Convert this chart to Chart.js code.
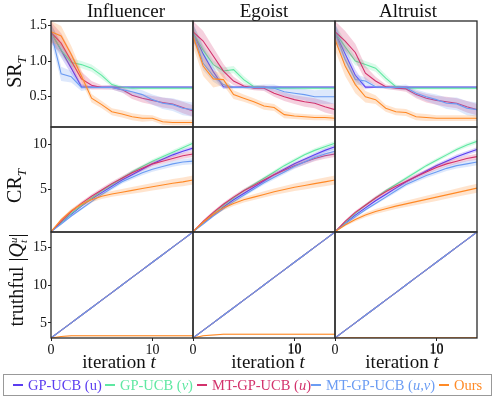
<!DOCTYPE html>
<html>
<head>
<meta charset="utf-8">
<script src="https://cdn.jsdelivr.net/npm/chart.js@4.4.1/dist/chart.umd.min.js"></script>
<style>
  body { margin:0; background:#fff; }
  #fig { position:relative; width:498px; height:397px; font-family:'Liberation Serif', serif; color:#111; }
  #fig canvas { position:absolute; left:0; top:0; }
  .lbl { position:absolute; white-space:nowrap; transform:translate(-50%,-50%); font-size:19px; }
  .tk { position:absolute; white-space:nowrap; transform:translate(-50%,-50%); font-size:14px; line-height:14px; }
  .ylbl { position:absolute; white-space:nowrap; transform:translate(-50%,-50%) rotate(-90deg); font-size:20px; }
  #legend { position:absolute; left:3px; top:374px; width:487px; height:20px; border:1px solid #999; font-size:14.5px; }
  #legend span.it { position:absolute; top:0; height:20px; display:flex; align-items:center; white-space:nowrap; }
  #legend span.mk { display:inline-block; width:10px; height:2px; margin-right:5px; }
</style>
</head>
<body>
<div id="fig"></div>
<script>
// x values (iteration t)
const T = [0,1,2,3,4,5,6,7,8,9,10,11,12,13,14];

const names = ['GP-UCB (u)', 'GP-UCB (v)', 'MT-GP-UCB (u)', 'MT-GP-UCB (u,v)', 'Ours'];
const colors = ['#5a3cf0', '#5fe8a2', '#d3326c', '#6b9cf3', '#ff8a26'];

// SR_T
const srInfGPu  = [1.40,1.15,0.90,0.64,0.635,0.635,0.635,0.635,0.635,0.635,0.635,0.635,0.635,0.635,0.635];
const srInfGPv  = [1.40,1.15,0.98,0.95,0.90,0.80,0.67,0.63,0.62,0.62,0.62,0.62,0.62,0.62,0.62];
const srInfMTu  = [1.40,1.25,1.00,0.75,0.66,0.63,0.63,0.60,0.52,0.48,0.45,0.42,0.40,0.35,0.30];
const srInfMTuv = [1.40,0.82,0.78,0.63,0.63,0.63,0.63,0.60,0.57,0.53,0.46,0.41,0.39,0.34,0.32];
const srInfOurs = [1.41,1.35,1.09,0.79,0.48,0.39,0.29,0.26,0.22,0.20,0.20,0.15,0.14,0.14,0.14];

const srEgoGPu  = [1.40,1.10,0.85,0.64,0.635,0.635,0.635,0.635,0.635,0.635,0.635,0.635,0.635,0.635,0.635];
const srEgoGPv  = [1.40,1.15,0.95,0.86,0.88,0.74,0.64,0.63,0.62,0.62,0.62,0.62,0.62,0.62,0.62];
const srEgoMTu  = [1.41,1.28,1.07,0.86,0.72,0.65,0.62,0.62,0.55,0.50,0.46,0.43,0.41,0.36,0.32];
const srEgoMTuv = [1.40,0.97,0.79,0.67,0.63,0.63,0.63,0.63,0.62,0.57,0.55,0.53,0.50,0.50,0.50];
const srEgoOurs = [1.35,0.93,0.75,0.74,0.53,0.48,0.43,0.37,0.35,0.25,0.23,0.22,0.21,0.21,0.20];

const srAltGPu  = [1.40,1.10,0.80,0.635,0.635,0.635,0.635,0.635,0.635,0.635,0.635,0.635,0.635,0.635,0.635];
const srAltGPv  = [1.40,1.20,1.00,0.95,0.90,0.76,0.64,0.62,0.62,0.62,0.62,0.62,0.62,0.62,0.62];
const srAltMTu  = [1.41,1.28,1.12,0.83,0.72,0.64,0.62,0.61,0.53,0.48,0.45,0.43,0.41,0.36,0.32];
const srAltMTuv = [1.40,1.02,0.74,0.72,0.64,0.63,0.63,0.63,0.55,0.50,0.46,0.41,0.40,0.34,0.32];
const srAltOurs = [1.30,0.93,0.67,0.50,0.46,0.34,0.29,0.28,0.22,0.21,0.20,0.20,0.20,0.20,0.20];

const srSdGPu  = [0.12,0.10,0.08,0.03,0.01,0.01,0.01,0.01,0.01,0.01,0.01,0.01,0.01,0.01,0.01];
const srSdGPv  = [0.12,0.08,0.06,0.05,0.05,0.05,0.03,0.02,0.02,0.02,0.02,0.02,0.02,0.02,0.02];
const srSdMTu  = [0.15,0.14,0.12,0.10,0.06,0.03,0.03,0.04,0.05,0.06,0.06,0.07,0.07,0.08,0.08];
const srSdMTuv = [0.12,0.10,0.08,0.05,0.02,0.02,0.03,0.04,0.05,0.06,0.07,0.08,0.09,0.10,0.10];
const srSdOurs = [0.15,0.14,0.12,0.08,0.06,0.05,0.05,0.05,0.05,0.05,0.04,0.04,0.04,0.04,0.04];

// CR_T
const crInfGPu  = [0.25,1.25,2.2,3.1,3.9,4.6,5.3,6.0,6.6,7.2,7.8,8.3,8.8,9.2,9.55];
const crInfGPv  = [0.25,1.3,2.3,3.2,4.0,4.8,5.5,6.2,6.9,7.5,8.1,8.6,9.1,9.6,10.1];
const crInfMTu  = [0.25,1.4,2.5,3.4,4.2,4.9,5.6,6.2,6.8,7.3,7.8,8.1,8.4,8.7,8.9];
const crInfMTuv = [0.25,1.1,2.0,2.8,3.6,4.4,5.1,5.8,6.3,6.8,7.2,7.5,7.8,8.0,8.1];
const crInfOurs = [0.25,1.6,2.6,3.3,3.8,4.2,4.45,4.65,4.85,5.05,5.25,5.45,5.65,5.8,6.0];

const crEgoGPu  = [0.25,1.2,2.1,3.0,3.8,4.5,5.2,5.9,6.6,7.2,7.8,8.3,8.8,9.3,9.7];
const crEgoGPv  = [0.25,1.3,2.3,3.2,4.0,4.8,5.5,6.2,6.9,7.6,8.2,8.8,9.3,9.7,10.1];
const crEgoMTu  = [0.25,1.4,2.4,3.3,4.1,4.8,5.4,6.0,6.6,7.1,7.6,8.0,8.4,8.7,8.9];
const crEgoMTuv = [0.25,1.1,2.0,2.8,3.6,4.3,5.0,5.7,6.3,6.9,7.5,8.0,8.5,8.9,9.2];
const crEgoOurs = [0.25,1.3,2.2,2.9,3.4,3.8,4.1,4.4,4.7,4.95,5.2,5.4,5.6,5.8,6.0];

const crAltGPu  = [0.25,1.2,2.1,2.9,3.7,4.4,5.1,5.8,6.4,7.0,7.6,8.1,8.6,9.0,9.4];
const crAltGPv  = [0.25,1.3,2.3,3.2,4.0,4.8,5.5,6.2,6.9,7.6,8.2,8.8,9.4,9.9,10.3];
const crAltMTu  = [0.25,1.4,2.4,3.2,4.0,4.7,5.3,5.85,6.4,6.9,7.4,7.8,8.1,8.4,8.6];
const crAltMTuv = [0.25,1.1,1.9,2.7,3.4,4.1,4.8,5.5,6.0,6.5,6.9,7.3,7.6,7.8,8.0];
const crAltOurs = [0.25,1.0,1.6,2.1,2.5,2.8,3.1,3.35,3.6,3.85,4.1,4.35,4.6,4.85,5.1];

const crSdGPu  = [0,0.10,0.12,0.14,0.15,0.16,0.17,0.18,0.19,0.20,0.21,0.22,0.23,0.24,0.25];
const crSdGPv  = [0,0.10,0.12,0.14,0.15,0.16,0.17,0.18,0.19,0.20,0.21,0.22,0.23,0.24,0.25];
const crSdMTu  = [0,0.15,0.18,0.20,0.22,0.24,0.25,0.26,0.27,0.28,0.29,0.30,0.31,0.32,0.33];
const crSdMTuv = [0,0.10,0.12,0.14,0.16,0.18,0.20,0.22,0.24,0.26,0.28,0.30,0.32,0.34,0.35];
const crSdOurs = [0,0.15,0.20,0.25,0.28,0.30,0.32,0.35,0.37,0.40,0.42,0.44,0.46,0.48,0.50];

// truthful |Q_t^u|
const truthGP      = [3,4,5,6,7,8,9,10,11,12,13,14,15,16,17];
const truthInfOurs = [3.0,3.2,3.3,3.3,3.3,3.3,3.3,3.3,3.3,3.3,3.3,3.3,3.3,3.3,3.3];
const truthEgoOurs = [3.0,3.3,3.4,3.5,3.5,3.5,3.5,3.5,3.5,3.5,3.5,3.5,3.5,3.5,3.5];
const truthAltOurs = [3.0,3.02,3.03,3.03,3.03,3.03,3.03,3.03,3.03,3.03,3.03,3.03,3.03,3.03,3.03];
const truthSdGP    = [0,0,0,0,0,0,0,0,0,0,0,0,0,0,0];
const truthSdOurs  = [0,0.08,0.1,0.1,0.1,0.1,0.1,0.1,0.1,0.1,0.1,0.1,0.1,0.1,0.1];

const colLeft = [51, 193, 335], colRight = [193, 335, 477];
const rowTop = [21, 127, 232], rowBottom = [127, 232, 338];
const yRange = [[0.077, 1.56], [0.22, 11.9], [3, 17]];
const yTicks = [[0.5, 1.0, 1.5], [5, 10], [5, 10, 15]];
const xTicks = [0, 10];
const X_MAX = 14;
const Y_AXIS_W = 40, X_AXIS_H = 22;

const frame = {
  id: 'frame',
  afterDraw(c) {
    const a = c.chartArea, ctx = c.ctx;
    ctx.save();
    ctx.strokeStyle = '#2a2a2a';
    ctx.lineWidth = 1.3;
    ctx.strokeRect(a.left, a.top, a.right - a.left, a.bottom - a.top);
    ctx.restore();
  }
};

const fig = document.getElementById('fig');
const tickFont = { family: 'Liberation Serif', size: 14 };

function panel(col, row, means, sds) {
  const cv = document.createElement('canvas');
  cv.width = 498; cv.height = 397;
  fig.appendChild(cv);
  const datasets = [];
  // Ours first so it ends up on top
  for (let k = means.length - 1; k >= 0; k--) {
    const m = means[k], sd = sds[k], c = colors[k];
    datasets.push({ data: T.map((t, i) => ({ x: t, y: m[i] - sd[i] })), borderWidth: 0, pointRadius: 0, fill: false });
    datasets.push({ data: T.map((t, i) => ({ x: t, y: m[i] + sd[i] })), borderWidth: 0, pointRadius: 0, fill: '-1', backgroundColor: c + '3a' });
    datasets.push({ label: names[k], data: T.map((t, i) => ({ x: t, y: m[i] })), borderColor: c, borderWidth: 1.1, pointRadius: 0, fill: false });
  }
  const showY = col === 0;
  const yInk = showY ? '#111' : 'rgba(0,0,0,0)';
  const yGrid = showY ? '#222' : 'rgba(0,0,0,0)';
  new Chart(cv, {
    type: 'line',
    data: { datasets },
    options: {
      responsive: false, animation: false, devicePixelRatio: 1,
      layout: { padding: { left: colLeft[col] - Y_AXIS_W, right: 498 - colRight[col], top: rowTop[row], bottom: 397 - rowBottom[row] } },
      plugins: { legend: { display: false }, tooltip: { enabled: false } },
      scales: {
        x: { type: 'linear', min: 0, max: X_MAX, display: false },
        y: {
          min: yRange[row][0], max: yRange[row][1],
          afterFit: s => { s.width = Y_AXIS_W; },
          afterBuildTicks: s => { s.ticks = yTicks[row].map(v => ({ value: v })); },
          grid: { drawOnChartArea: false, tickLength: 3, color: yGrid },
          border: { display: false },
          ticks: { font: tickFont, color: yInk, padding: 1, autoSkip: false,
                   callback: v => row === 0 ? v.toFixed(1) : v }
        }
      }
    },
    plugins: [frame]
  });
}

panel(0, 0, [srInfGPu, srInfGPv, srInfMTu, srInfMTuv, srInfOurs], [srSdGPu, srSdGPv, srSdMTu, srSdMTuv, srSdOurs]);
panel(1, 0, [srEgoGPu, srEgoGPv, srEgoMTu, srEgoMTuv, srEgoOurs], [srSdGPu, srSdGPv, srSdMTu, srSdMTuv, srSdOurs]);
panel(2, 0, [srAltGPu, srAltGPv, srAltMTu, srAltMTuv, srAltOurs], [srSdGPu, srSdGPv, srSdMTu, srSdMTuv, srSdOurs]);
panel(0, 1, [crInfGPu, crInfGPv, crInfMTu, crInfMTuv, crInfOurs], [crSdGPu, crSdGPv, crSdMTu, crSdMTuv, crSdOurs]);
panel(1, 1, [crEgoGPu, crEgoGPv, crEgoMTu, crEgoMTuv, crEgoOurs], [crSdGPu, crSdGPv, crSdMTu, crSdMTuv, crSdOurs]);
panel(2, 1, [crAltGPu, crAltGPv, crAltMTu, crAltMTuv, crAltOurs], [crSdGPu, crSdGPv, crSdMTu, crSdMTuv, crSdOurs]);
panel(0, 2, [truthGP, truthGP, truthGP, truthGP, truthInfOurs], [truthSdGP, truthSdGP, truthSdGP, truthSdGP, truthSdOurs]);
panel(1, 2, [truthGP, truthGP, truthGP, truthGP, truthEgoOurs], [truthSdGP, truthSdGP, truthSdGP, truthSdGP, truthSdOurs]);
panel(2, 2, [truthGP, truthGP, truthGP, truthGP, truthAltOurs], [truthSdGP, truthSdGP, truthSdGP, truthSdGP, truthSdOurs]);

// shared x axis under the bottom row: three 0..14 panels laid side by side
const allTicks = [];
[0, 1, 2].forEach(p => xTicks.forEach(v => allTicks.push(p * X_MAX + v)));
let bottomX = null;
(function bottomAxis() {
  const cv = document.createElement('canvas');
  cv.width = 498; cv.height = 397;
  fig.appendChild(cv);
  const ch = new Chart(cv, {
    type: 'line',
    data: { datasets: [] },
    options: {
      responsive: false, animation: false, devicePixelRatio: 1,
      layout: { padding: { left: colLeft[0], right: 498 - colRight[2], top: rowTop[2], bottom: 397 - rowBottom[2] - X_AXIS_H } },
      plugins: { legend: { display: false }, tooltip: { enabled: false } },
      scales: {
        x: {
          type: 'linear', min: 0, max: 3 * X_MAX,
          afterFit: s => { s.height = X_AXIS_H; },
          afterBuildTicks: s => { s.ticks = allTicks.map(v => ({ value: v })); },
          grid: { drawOnChartArea: false, tickLength: 3, color: '#222' },
          border: { display: false },
          ticks: { font: tickFont, color: '#111', padding: 1, maxRotation: 0, autoSkip: false,
                   callback: v => String(v % X_MAX) }
        },
        y: { display: false, min: 0, max: 1 }
      }
    }
  });
  bottomX = ch.scales.x;
})();

// text
function addText(cls, x, y, html) {
  const d = document.createElement('div');
  d.className = cls;
  d.style.left = x + 'px'; d.style.top = y + 'px';
  d.innerHTML = html;
  fig.appendChild(d);
}
// the "10" ticks of the 2nd and 3rd panels did not show on the canvas; place them at the scale's own pixel
[1, 2].forEach(p => {
  const v = p * X_MAX + xTicks[1];
  addText('tk', bottomX.getPixelForValue(v), rowBottom[2] + 11, String(xTicks[1]));
});
addText('lbl', 126, 11, 'Influencer');
addText('lbl', 264, 11, 'Egoist');
addText('lbl', 408, 11, 'Altruist');
addText('lbl', 119, 362, 'iteration <i>t</i>');
addText('lbl', 268, 362, 'iteration <i>t</i>');
addText('lbl', 402, 362, 'iteration <i>t</i>');
addText('ylbl', 16, 72, 'SR<sub style="font-size:13px"><i>T</i></sub>');
addText('ylbl', 16, 186, 'CR<sub style="font-size:13px"><i>T</i></sub>');
addText('ylbl', 17, 280, 'truthful |<i>Q</i><span style="display:inline-flex;flex-direction:column;font-size:11px;line-height:10px;vertical-align:middle"><i>u</i><i>t</i></span>|');

const legendHtml = [
  'GP-UCB (u)', 'GP-UCB (<i>v</i>)', 'MT-GP-UCB (<i>u</i>)', 'MT-GP-UCB (<i>u,v</i>)', 'Ours'
];
const legendX = [9, 101, 193, 307, 435];
const lg = document.createElement('div');
lg.id = 'legend';
lg.innerHTML = legendHtml.map((h, k) =>
  `<span class="it" style="left:${legendX[k]}px;color:${colors[k]}"><span class="mk" style="background:${colors[k]}"></span>${h}</span>`
).join('');
fig.appendChild(lg);
</script>
</body>
</html>
